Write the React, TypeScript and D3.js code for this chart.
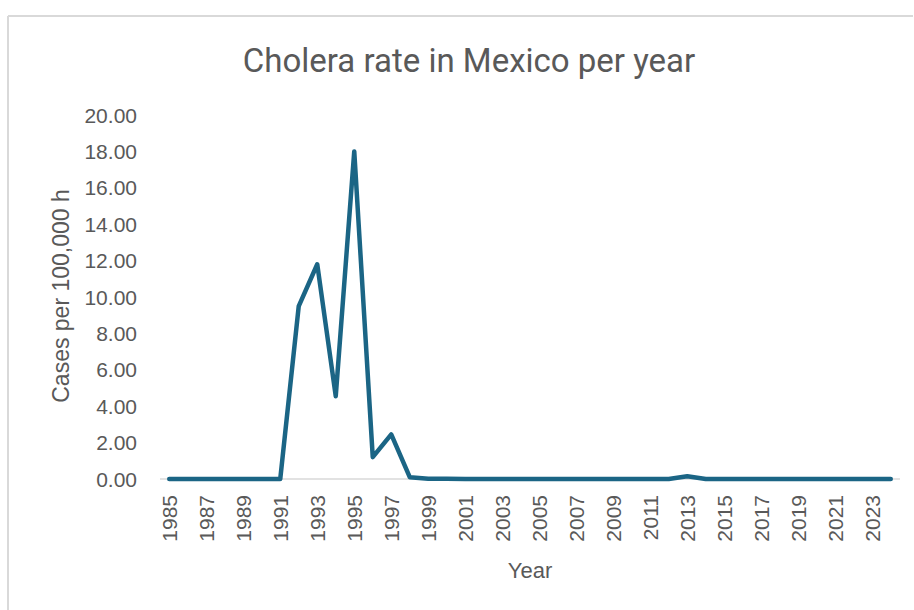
import React from "react";
import * as d3 from "d3";

// Cholera cases per 100,000 inhabitants, Mexico
const years: number[] = [
  1985, 1986, 1987, 1988, 1989, 1990, 1991, 1992, 1993, 1994,
  1995, 1996, 1997, 1998, 1999, 2000, 2001, 2002, 2003, 2004,
  2005, 2006, 2007, 2008, 2009, 2010, 2011, 2012, 2013, 2014,
  2015, 2016, 2017, 2018, 2019, 2020, 2021, 2022, 2023, 2024,
];
const rates: number[] = [
  0, 0, 0, 0, 0, 0, 0, 9.5, 11.8, 4.55,
  18.0, 1.2, 2.45, 0.1, 0.02, 0.01, 0, 0, 0, 0,
  0, 0, 0, 0, 0, 0, 0, 0, 0.15, 0,
  0, 0, 0, 0, 0, 0, 0, 0, 0, 0,
];
const yTicks: number[] = [0, 2, 4, 6, 8, 10, 12, 14, 16, 18, 20];
const tickYears: number[] = years.filter((y) => (y - 1985) % 2 === 0 && y <= 2023);

const W = 914;
const H = 610;
const left = 160;
const right = 900;
const top = 115;
const bottom = 479;

export default function App() {
  const x = d3
    .scaleBand<number>()
    .domain(years)
    .range([left, right])
    .paddingInner(0)
    .paddingOuter(0);
  const y = d3.scaleLinear().domain([0, 20]).range([bottom, top]);
  const cx = (yr: number) => (x(yr) ?? 0) + x.bandwidth() / 2;

  const line = d3
    .line<number>()
    .x((_, i) => cx(years[i]))
    .y((d) => y(d));

  const textColor = "#595959";
  const font = "'Liberation Sans', Arial, sans-serif";

  return (
    <svg
      width={W}
      height={H}
      style={{ position: "absolute", left: 0, top: 0, background: "#fff" }}
    >
      {/* chart frame */}
      <line x1={8} y1={16} x2={913} y2={16} stroke="#d9d9d9" strokeWidth={2} />
      <line x1={8} y1={16} x2={8} y2={610} stroke="#d9d9d9" strokeWidth={2} />

      <text
        x={469}
        y={72}
        textAnchor="middle"
        fontFamily="'Roboto', sans-serif"
        fontSize={33}
        fill={textColor}
      >
        Cholera rate in Mexico per year
      </text>

      {/* y ticks */}
      {yTicks.map((t) => (
        <text
          key={t}
          x={137}
          y={y(t) + 7.5}
          textAnchor="end"
          fontFamily={font}
          fontSize={21}
          fill={textColor}
        >
          {t.toFixed(2)}
        </text>
      ))}

      <text
        transform={`translate(69,296) rotate(-90)`}
        textAnchor="middle"
        fontFamily={font}
        fontSize={23}
        fill={textColor}
      >
        Cases per 100,000 h
      </text>

      {/* category axis */}
      <line x1={left} y1={bottom} x2={right} y2={bottom} stroke="#d9d9d9" strokeWidth={1.5} />

      {tickYears.map((yr) => (
        <text
          key={yr}
          transform={`translate(${cx(yr) + 7.5},495) rotate(-90)`}
          textAnchor="end"
          fontFamily={font}
          fontSize={21}
          fill={textColor}
        >
          {yr}
        </text>
      ))}

      <text
        x={530}
        y={578}
        textAnchor="middle"
        fontFamily={font}
        fontSize={22}
        fill={textColor}
      >
        Year
      </text>

      <path
        d={line(rates) ?? ""}
        fill="none"
        stroke="#1b6585"
        strokeWidth={4.5}
        strokeLinejoin="round"
        strokeLinecap="round"
      />
    </svg>
  );
}
